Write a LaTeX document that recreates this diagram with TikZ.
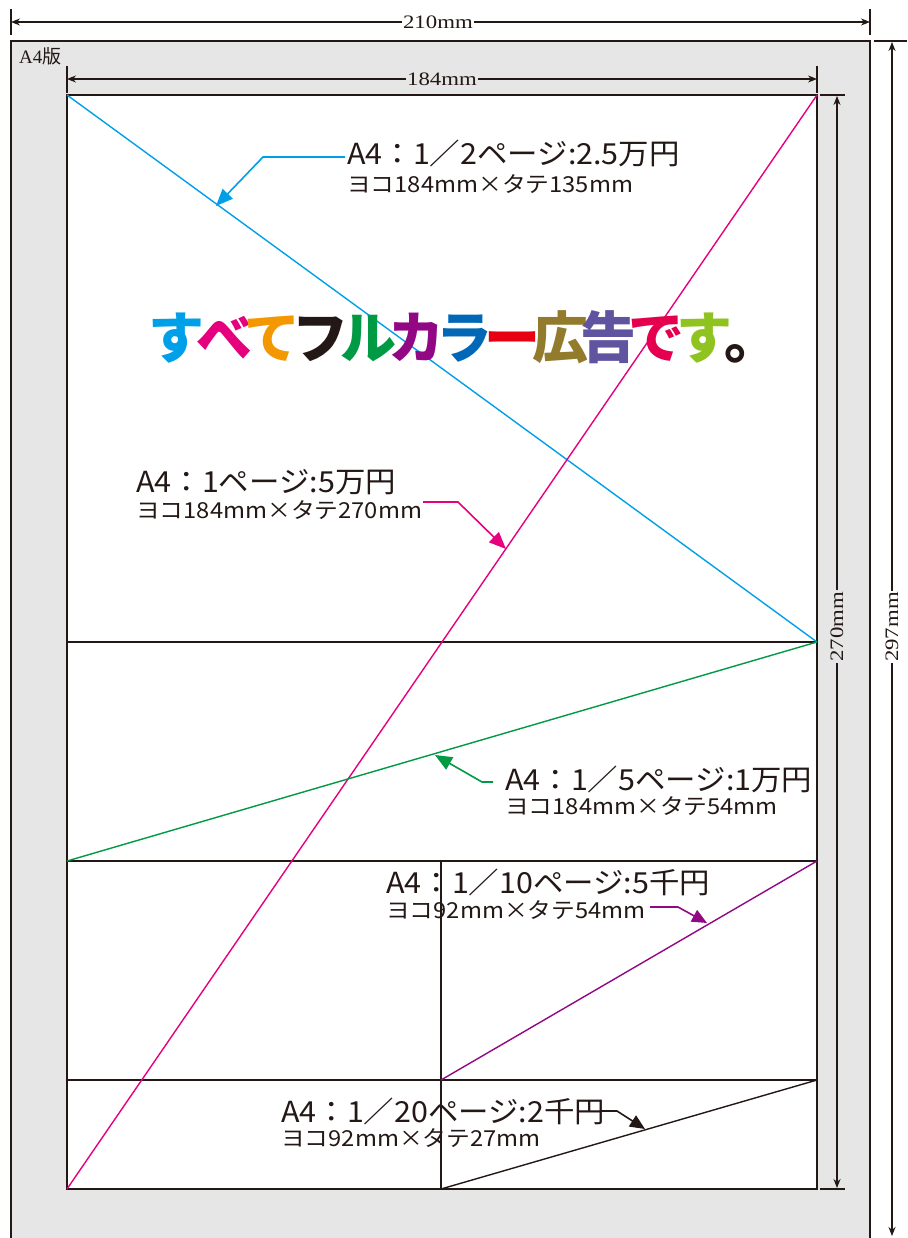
\documentclass[tikz,border=0pt]{standalone}
\usepackage{fontspec}
\usetikzlibrary{arrows.meta}
\newfontfamily\jp{Noto Sans CJK JP}
\newfontfamily\jpa[FakeStretch=1.05]{Noto Sans CJK JP}
\newfontfamily\jpb[FakeStretch=1.08]{Noto Sans CJK JP}
\newfontfamily\dimserif[FakeStretch=1.2]{Liberation Serif}
\newfontfamily\plainserif{Liberation Serif}
\definecolor{dark}{RGB}{35,24,21}
\definecolor{paper}{RGB}{230,230,230}
\definecolor{cyanl}{RGB}{0,160,233}
\definecolor{magl}{RGB}{230,0,126}
\definecolor{orangel}{RGB}{243,152,0}
\definecolor{greenl}{RGB}{0,153,68}
\definecolor{purpl}{RGB}{146,7,131}
\definecolor{bluel}{RGB}{0,104,183}
\definecolor{redl}{RGB}{230,0,18}
\definecolor{olivel}{RGB}{146,123,44}
\definecolor{violetl}{RGB}{96,83,160}
\definecolor{crimsonl}{RGB}{229,0,79}
\definecolor{ygreenl}{RGB}{143,195,31}
\tikzset{
  frame/.style={draw=dark, line width=1.6pt},
  thin/.style={draw=dark, line width=1.3pt},
  dimline/.style={draw=dark, line width=1.2pt, {Stealth[length=9pt,width=7pt]}-{Stealth[length=9pt,width=7pt]}},
  tick/.style={draw=dark, line width=1.3pt},
  dimtext/.style={font=\dimserif\fontsize{19}{19}\selectfont, inner sep=1.5pt, text=dark},
  diag/.style={line width=1.4pt},
  callout/.style={line width=1.6pt, -{Triangle[length=17pt,width=14pt]}},
  calloutsm/.style={line width=1.6pt, -{Triangle[length=15pt,width=13pt]}},
  labA/.style={anchor=base west, inner sep=0pt, text=dark, font=\jpa\fontsize{29}{29}\selectfont},
  labB/.style={anchor=base west, inner sep=0pt, text=dark, font=\jpb\fontsize{22}{22}\selectfont},
}
\begin{document}
\begin{tikzpicture}[x=1pt,y=-1pt]
\useasboundingbox (0,0) rectangle (907,1238);
% paper sheet
\fill[paper] (11,41) rectangle (870,1245);
\draw[frame] (11,1245) -- (11,41) -- (870,41) -- (870,1245);
\node[anchor=base west, inner sep=0pt, text=dark, font=\plainserif\fontsize{19}{19}\selectfont] (a4) at (19,64) {A4{\jp 版}};
% print area
\coordinate (TL) at (67,95);
\coordinate (TR) at (817,95);
\coordinate (BL) at (67,1189);
\coordinate (BR) at (817,1189);
\fill[white] (TL) rectangle (BR);
\coordinate (L1) at (67,642);  \coordinate (R1) at (817,642);
\coordinate (L2) at (67,861);  \coordinate (R2) at (817,861);
\coordinate (L3) at (67,1080); \coordinate (R3) at (817,1080);
\coordinate (M2) at (441,861); \coordinate (M3) at (441,1080); \coordinate (MB) at (441,1189);
\draw[thin] (L1) -- (R1);
\draw[thin] (L2) -- (R2);
\draw[thin] (L3) -- (R3);
\draw[thin] (M2) -- (MB);
\draw[frame] (TL) rectangle (BR);
% diagonals
\draw[diag, cyanl] (TL) -- (R1);
\draw[diag, magl] (BL) -- (TR);
\draw[diag, greenl] (L2) -- (R1);
\draw[diag, purpl] (M3) -- (R2);
\draw[diag, dark] (MB) -- (R3);
% dimension 210
\coordinate (d210l) at (11,22); \coordinate (d210r) at (870,22);
\draw[tick] (11,9) -- (11,35);
\draw[tick] (870,9) -- (870,35);
\draw[dimline] (d210l) -- (d210r) node[pos=0.497, fill=white, dimtext] (t210) {210mm};
% dimension 184
\coordinate (d184l) at (67,79); \coordinate (d184r) at (817,79);
\draw[tick] (67,66) -- (67,93);
\draw[tick] (817,66) -- (817,93);
\draw[dimline] (d184l) -- (d184r) node[pos=0.5, fill=paper, dimtext] (t184) {184mm};
% dimension 270
\coordinate (d270t) at (837,96); \coordinate (d270b) at (837,1188);
\draw[tick] (820,95) -- (845,95);
\draw[tick] (820,1189) -- (845,1189);
\draw[dimline] (d270t) -- (d270b) node[pos=0.486, fill=paper, dimtext, rotate=90] (t270) {270mm};
% dimension 297
\coordinate (d297t) at (892,42); \coordinate (d297b) at (892,1236);
\draw[tick] (874,41) -- (907,41);
\draw[dimline] (d297t) -- (d297b) node[pos=0.49, fill=white, dimtext, rotate=90] (t297) {297mm};
% title
\node[inner sep=0pt, font=\jp\bfseries\fontsize{56}{56}\selectfont] (title) at (464,337)
 {{\color{cyanl}す}\kern-8pt{\color{magl}べ}\kern-8pt{\color{orangel}て}\kern-8pt{\color{dark}フ}\kern-8pt{\color{greenl}ル}\kern-8pt{\color{purpl}カ}\kern-8pt{\color{bluel}ラ}\kern-8pt{\color{redl}ー}\kern-8pt{\color{olivel}広}\kern-8pt{\color{violetl}告}\kern-8pt{\color{crimsonl}で}\kern-8pt{\color{ygreenl}す}\kern-8pt{\color{dark}。}};
% label 1/2
\node[labA] (h1) at (347,165) {A4：1／2ページ:2.5万円};
\node[labB] (h2) at (347,193) {ヨコ184mm×タテ135mm};
\coordinate (h1a) at (345,157); \coordinate (h1b) at (263,157); \coordinate (h1c) at (216,206);
\draw[callout, cyanl] (h1a) -- (h1b) -- (h1c);
% label 1
\node[labA] (f1) at (136,492) {A4：1ページ:5万円};
\node[labB] (f2) at (136,518) {ヨコ184mm×タテ270mm};
\coordinate (f1a) at (423,502); \coordinate (f1b) at (458,502); \coordinate (f1c) at (506,549);
\draw[callout, magl] (f1a) -- (f1b) -- (f1c);
% label 1/5
\node[labA] (g1) at (505,790) {A4：1／5ページ:1万円};
\node[labB] (g2) at (505,814) {ヨコ184mm×タテ54mm};
\coordinate (g1a) at (493,782); \coordinate (g1b) at (482,782); \coordinate (g1c) at (435,755);
\draw[callout, greenl] (g1a) -- (g1b) -- (g1c);
% label 1/10
\node[labA] (p1) at (386,893) {A4：1／10ページ:5千円};
\node[labB] (p2) at (386,918) {ヨコ92mm×タテ54mm};
\coordinate (p1a) at (650,907); \coordinate (p1b) at (678,907); \coordinate (p1c) at (707,923);
\draw[calloutsm, purpl] (p1a) -- (p1b) -- (p1c);
% label 1/20
\node[labA] (k1) at (281,1122) {A4：1／20ページ:2千円};
\node[labB] (k2) at (281,1146) {ヨコ92mm×タテ27mm};
\coordinate (k1a) at (600,1111); \coordinate (k1b) at (617,1111); \coordinate (k1c) at (645,1129);
\draw[calloutsm, dark] (k1a) -- (k1b) -- (k1c);
\end{tikzpicture}
\end{document}
